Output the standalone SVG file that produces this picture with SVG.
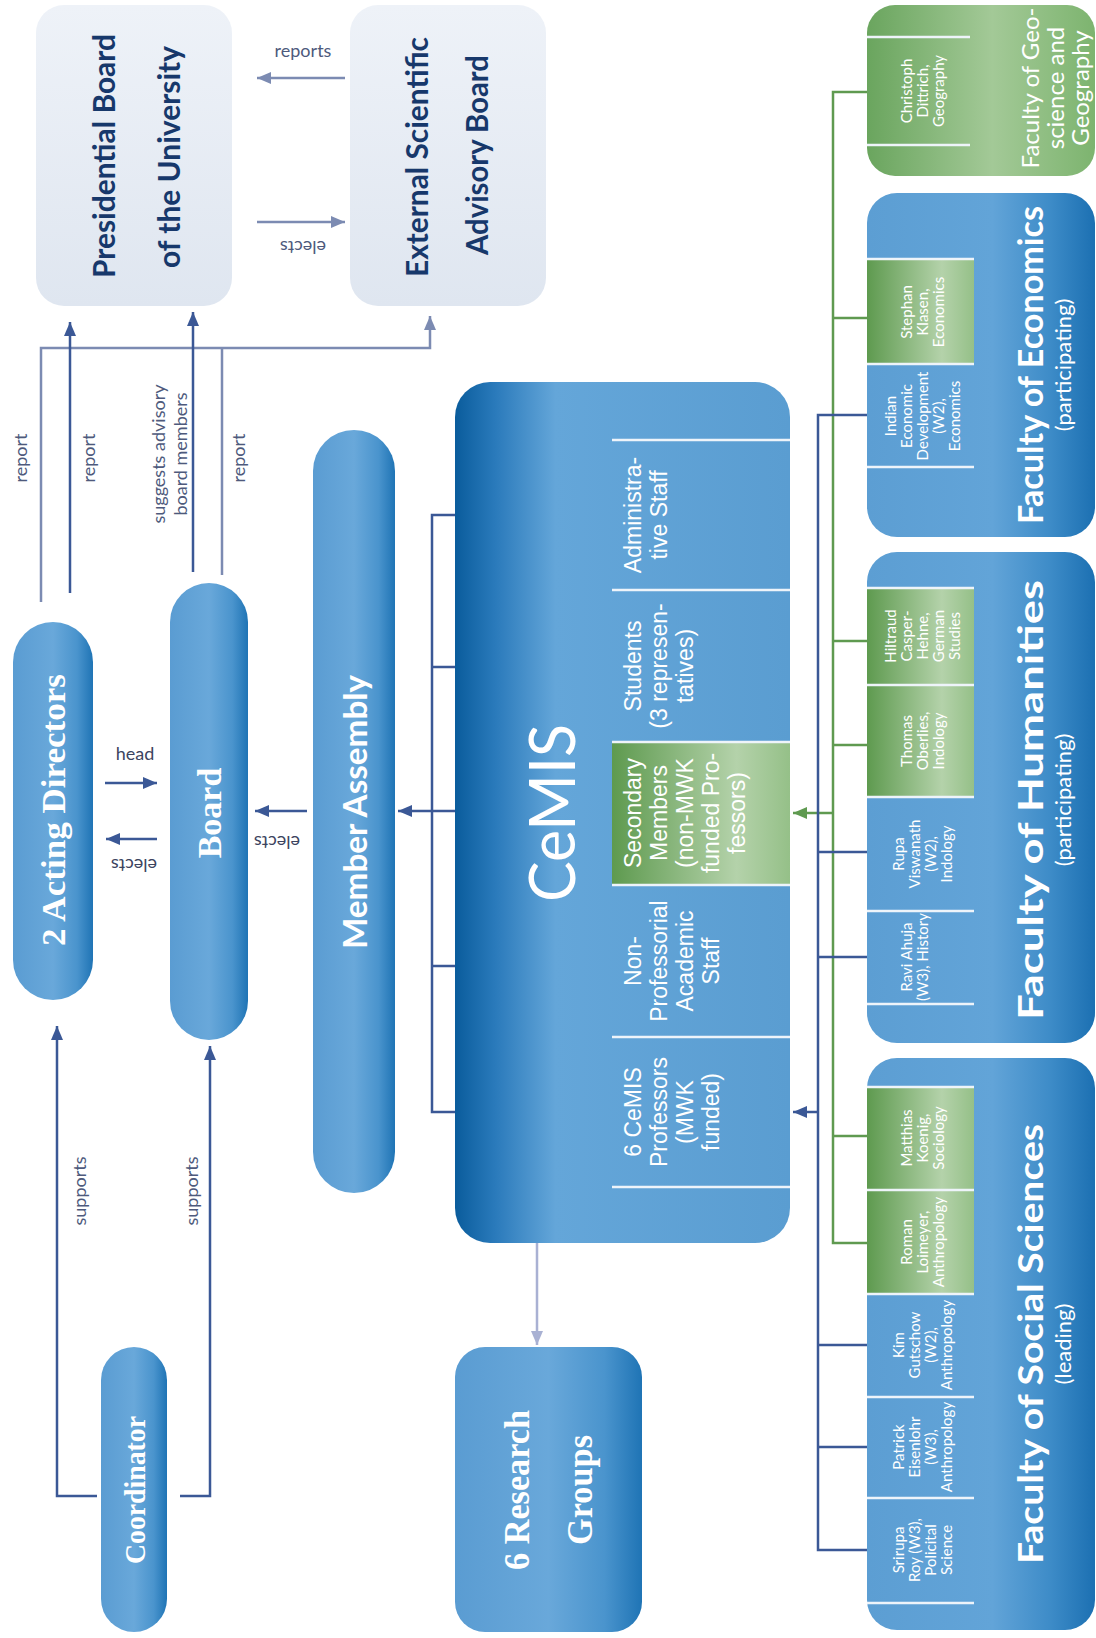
<svg xmlns="http://www.w3.org/2000/svg" width="1096" height="1638" viewBox="0 0 1096 1638">
<style>
.lbl{font-family:Lato,"Liberation Sans",sans-serif;font-size:18px;fill:#4e5a7c;text-anchor:middle;dominant-baseline:central}
.ttl{font-family:Lato,"Liberation Sans",sans-serif;font-weight:bold;font-size:30px;fill:#17386b;text-anchor:middle;dominant-baseline:central}
.wt{font-family:Lato,"Liberation Sans",sans-serif;font-weight:bold;font-size:32px;fill:#ffffff;text-anchor:middle;dominant-baseline:central}
.ws{font-family:"Liberation Serif","DejaVu Serif",serif;font-weight:bold;font-size:34px;fill:#ffffff;text-anchor:middle;dominant-baseline:central}
.cell{font-family:"Liberation Sans",sans-serif;font-size:23px;fill:#ffffff;text-anchor:middle;dominant-baseline:central}
.fc{font-family:Lato,"Liberation Sans",sans-serif;font-size:15px;fill:#ffffff;text-anchor:middle;dominant-baseline:central}
.sep{stroke:#eef4fa;stroke-width:2.5;fill:none}
.dark{stroke:#3b5896;stroke-width:2.5;fill:none}
.light{stroke:#7c8bb2;stroke-width:2.5;fill:none}
.green{stroke:#5f9a50;stroke-width:2.5;fill:none}
.lav{stroke:#a9b1d3;stroke-width:2.5;fill:none}
</style>
<defs>
<linearGradient id="gPill" x1="0" y1="0" x2="1" y2="0">
<stop offset="0" stop-color="#5a9cd2"/><stop offset="0.5" stop-color="#69a8da"/><stop offset="0.8" stop-color="#4a94cd"/><stop offset="1" stop-color="#1f74b5"/>
</linearGradient>
<linearGradient id="gCemis" x1="0" y1="0" x2="1" y2="0">
<stop offset="0" stop-color="#0a5c9c"/><stop offset="0.12" stop-color="#2a7abb"/><stop offset="0.3" stop-color="#64a6d9"/><stop offset="1" stop-color="#5a9dd1"/>
</linearGradient>
<linearGradient id="gFac" x1="0" y1="0" x2="1" y2="0">
<stop offset="0" stop-color="#5c9ed3"/><stop offset="0.55" stop-color="#62a4d8"/><stop offset="0.8" stop-color="#3e8cc8"/><stop offset="1" stop-color="#1c70b2"/>
</linearGradient>
<linearGradient id="gGreen" x1="0" y1="0" x2="1" y2="0">
<stop offset="0" stop-color="#5e9a4f"/><stop offset="0.7" stop-color="#b4d2aa"/><stop offset="1" stop-color="#95c088"/>
</linearGradient>
<linearGradient id="gGeo" x1="0" y1="0" x2="1" y2="0">
<stop offset="0" stop-color="#6aa55e"/><stop offset="0.55" stop-color="#a3c997"/><stop offset="1" stop-color="#7db46f"/>
</linearGradient>
<linearGradient id="gLight" x1="0" y1="0" x2="0" y2="1">
<stop offset="0" stop-color="#eef2f8"/><stop offset="1" stop-color="#dfe6f0"/>
</linearGradient>
<marker id="aDark" markerUnits="userSpaceOnUse" markerWidth="14" markerHeight="12" refX="14" refY="6" orient="auto"><path d="M0,0 L14,6 L0,12 z" fill="#3b5896"/></marker>
<marker id="aLight" markerUnits="userSpaceOnUse" markerWidth="14" markerHeight="12" refX="14" refY="6" orient="auto"><path d="M0,0 L14,6 L0,12 z" fill="#7c8bb2"/></marker>
<marker id="aGreen" markerUnits="userSpaceOnUse" markerWidth="14" markerHeight="12" refX="14" refY="6" orient="auto"><path d="M0,0 L14,6 L0,12 z" fill="#5f9a50"/></marker>
<marker id="aLav" markerUnits="userSpaceOnUse" markerWidth="14" markerHeight="12" refX="14" refY="6" orient="auto"><path d="M0,0 L14,6 L0,12 z" fill="#a9b1d3"/></marker>
</defs>
<rect width="1096" height="1638" fill="#ffffff"/>

<g id="connectors">
<path class="light" d="M41,602 V348 H430 V316" marker-end="url(#aLight)"/>
<path class="light" d="M222,575 V348"/>
<path class="dark" d="M70,593 V322" marker-end="url(#aDark)"/>
<path class="dark" d="M193,572 V312" marker-end="url(#aDark)"/>
<path class="light" d="M345,78 H257" marker-end="url(#aLight)"/>
<path class="light" d="M257,222 H345" marker-end="url(#aLight)"/>
<path class="dark" d="M105,783 H157" marker-end="url(#aDark)"/>
<path class="dark" d="M157,839 H106" marker-end="url(#aDark)"/>
<path class="dark" d="M307,811 H255" marker-end="url(#aDark)"/>
<path class="dark" d="M455,515 H432 V1112 H455 M432,667 H455 M432,966 H455"/>
<path class="dark" d="M455,811 H398" marker-end="url(#aDark)"/>
<path class="dark" d="M97,1496 H57 V1026" marker-end="url(#aDark)"/>
<path class="dark" d="M180,1496 H210 V1046" marker-end="url(#aDark)"/>
<path class="lav" d="M590,961 H537 V1345" marker-end="url(#aLav)"/>
<path class="lav" d="M537,1112 H590"/>
<path class="green" d="M867,92 H833 V1243 H867 M833,318 H867 M833,641 H867 M833,745 H867 M833,1136 H867"/>
<path class="green" d="M833,813 H793" marker-end="url(#aGreen)"/>
<path class="dark" d="M867,415 H818 V1550 H867 M818,852 H867 M818,957 H867 M818,1345 H867 M818,1447 H867"/>
<path class="dark" d="M818,1112 H793" marker-end="url(#aDark)"/>
</g>

<g id="labels">
<text class="lbl" x="303" y="50">reports</text>
<text class="lbl" transform="translate(303,248) rotate(180)">elects</text>
<text class="lbl" transform="translate(20,458) rotate(-90)">report</text>
<text class="lbl" transform="translate(88,458) rotate(-90)">report</text>
<text class="lbl" transform="translate(238,458) rotate(-90)">report</text>
<text class="lbl" transform="translate(158,454) rotate(-90)">suggests advisory</text>
<text class="lbl" transform="translate(180,454) rotate(-90)">board members</text>
<text class="lbl" style="fill:#3c4460" x="135" y="753">head</text>
<text class="lbl" style="fill:#3c4460" transform="translate(134,866) rotate(180)">elects</text>
<text class="lbl" style="fill:#3c4460" transform="translate(277,843) rotate(180)">elects</text>
<text class="lbl" transform="translate(79,1191) rotate(-90)">supports</text>
<text class="lbl" transform="translate(191,1191) rotate(-90)">supports</text>
<text class="lbl" style="fill:#c3cbe6;font-size:17px" transform="translate(563,1153) rotate(-90)">head</text>
</g>

<g id="presidential-board">
<rect x="36" y="5" width="196" height="301" rx="28" fill="url(#gLight)"/>
<text class="ttl" transform="translate(103,156) rotate(-90)" textLength="244" lengthAdjust="spacingAndGlyphs">Presidential Board</text>
<text class="ttl" transform="translate(168,157) rotate(-90)" textLength="222" lengthAdjust="spacingAndGlyphs">of the University</text>
</g>

<g id="external-board">
<rect x="350" y="5" width="196" height="301" rx="28" fill="url(#gLight)"/>
<text class="ttl" transform="translate(416,157) rotate(-90)" textLength="240" lengthAdjust="spacingAndGlyphs">External Scientific</text>
<text class="ttl" transform="translate(476,155) rotate(-90)" textLength="200" lengthAdjust="spacingAndGlyphs">Advisory Board</text>
</g>

<g id="acting-directors">
<rect x="13" y="622" width="80" height="378" rx="40" fill="url(#gPill)"/>
<text class="ws" transform="translate(53,810) rotate(-90)" textLength="272" lengthAdjust="spacingAndGlyphs">2 Acting Directors</text>
</g>

<g id="board">
<rect x="170" y="583" width="78" height="457" rx="39" fill="url(#gPill)"/>
<text class="ws" transform="translate(209,813) rotate(-90)">Board</text>
</g>

<g id="member-assembly">
<rect x="313" y="430" width="82" height="763" rx="41" fill="url(#gPill)"/>
<text class="wt" transform="translate(354,812) rotate(-90)" textLength="274" lengthAdjust="spacingAndGlyphs">Member Assembly</text>
</g>

<g id="coordinator">
<rect x="101" y="1347" width="66" height="285" rx="33" fill="url(#gPill)"/>
<text class="ws" style="font-size:30px" transform="translate(134,1490) rotate(-90)" textLength="148" lengthAdjust="spacingAndGlyphs">Coordinator</text>
</g>

<g id="cemis">
<rect x="455" y="382" width="335" height="861" rx="35" fill="url(#gCemis)"/>
<rect x="612" y="742" width="178" height="143" fill="url(#gGreen)"/>
<path class="sep" d="M612,440 H790 M612,590 H790 M612,742 H790 M612,885 H790 M612,1037 H790 M612,1187 H790"/>
<text class="wt" style="font-size:64px;font-weight:normal" transform="translate(550,813) rotate(-90)" textLength="178" lengthAdjust="spacingAndGlyphs">CeMIS</text>
<text class="cell" transform="translate(633,515) rotate(-90)">Administra-</text>
<text class="cell" transform="translate(659,515) rotate(-90)">tive Staff</text>
<text class="cell" transform="translate(633,666) rotate(-90)">Students</text>
<text class="cell" transform="translate(659,666) rotate(-90)">(3 represen-</text>
<text class="cell" transform="translate(685,666) rotate(-90)">tatives)</text>
<text class="cell" transform="translate(633,813) rotate(-90)">Secondary</text>
<text class="cell" transform="translate(659,813) rotate(-90)">Members</text>
<text class="cell" transform="translate(685,813) rotate(-90)">(non-MWK</text>
<text class="cell" transform="translate(711,813) rotate(-90)">funded Pro-</text>
<text class="cell" transform="translate(737,813) rotate(-90)">fessors)</text>
<text class="cell" transform="translate(633,961) rotate(-90)">Non-</text>
<text class="cell" transform="translate(659,961) rotate(-90)">Professorial</text>
<text class="cell" transform="translate(685,961) rotate(-90)">Academic</text>
<text class="cell" transform="translate(711,961) rotate(-90)">Staff</text>
<text class="cell" transform="translate(633,1112) rotate(-90)">6 CeMIS</text>
<text class="cell" transform="translate(659,1112) rotate(-90)">Professors</text>
<text class="cell" transform="translate(685,1112) rotate(-90)">(MWK</text>
<text class="cell" transform="translate(711,1112) rotate(-90)">funded)</text>
</g>

<g id="research-groups">
<rect x="455" y="1347" width="187" height="285" rx="30" fill="url(#gPill)"/>
<text class="ws" style="font-size:36px" transform="translate(517,1490) rotate(-90)" textLength="160" lengthAdjust="spacingAndGlyphs">6 Research</text>
<text class="ws" style="font-size:36px" transform="translate(580,1490) rotate(-90)" textLength="110" lengthAdjust="spacingAndGlyphs">Groups</text>
</g>

<g id="faculty-geo">
<rect x="867" y="5" width="228" height="171" rx="28" fill="url(#gGeo)"/>
<path class="sep" d="M867,37 H970 M867,145 H970"/>
<text class="fc" transform="translate(906,91) rotate(-90)">Christoph</text>
<text class="fc" transform="translate(922,91) rotate(-90)">Dittrich,</text>
<text class="fc" transform="translate(938,91) rotate(-90)">Geography</text>
<text class="wt" style="font-size:24px;font-weight:normal" transform="translate(1029,88) rotate(-90)">Faculty of Geo-</text>
<text class="wt" style="font-size:24px;font-weight:normal" transform="translate(1054,88) rotate(-90)">science and</text>
<text class="wt" style="font-size:24px;font-weight:normal" transform="translate(1079,88) rotate(-90)">Geography</text>
</g>

<g id="faculty-economics">
<rect x="867" y="193" width="228" height="344" rx="30" fill="url(#gFac)"/>
<rect x="867" y="259" width="107" height="105" fill="url(#gGreen)"/>
<path class="sep" d="M867,259 H974 M867,364 H974 M867,467 H974"/>
<text class="fc" transform="translate(906,312) rotate(-90)">Stephan</text>
<text class="fc" transform="translate(922,312) rotate(-90)">Klasen,</text>
<text class="fc" transform="translate(938,312) rotate(-90)">Economics</text>
<text class="fc" transform="translate(890,416) rotate(-90)">Indian</text>
<text class="fc" transform="translate(906,416) rotate(-90)">Economic</text>
<text class="fc" transform="translate(922,416) rotate(-90)">Development</text>
<text class="fc" transform="translate(938,416) rotate(-90)">(W2),</text>
<text class="fc" transform="translate(954,416) rotate(-90)">Economics</text>
<text class="wt" style="font-size:34px" transform="translate(1029,365) rotate(-90)" textLength="318" lengthAdjust="spacingAndGlyphs">Faculty of Economics</text>
<text class="wt" style="font-size:22px;font-weight:normal" transform="translate(1062,365) rotate(-90)">(participating)</text>
</g>

<g id="faculty-humanities">
<rect x="867" y="552" width="228" height="491" rx="30" fill="url(#gFac)"/>
<rect x="867" y="588" width="107" height="209" fill="url(#gGreen)"/>
<path class="sep" d="M867,588 H974 M867,685 H974 M867,797 H974 M867,911 H974 M867,1004 H974"/>
<text class="fc" transform="translate(890,636) rotate(-90)">Hiltraud</text>
<text class="fc" transform="translate(906,636) rotate(-90)">Casper-</text>
<text class="fc" transform="translate(922,636) rotate(-90)">Hehne,</text>
<text class="fc" transform="translate(938,636) rotate(-90)">German</text>
<text class="fc" transform="translate(954,636) rotate(-90)">Studies</text>
<text class="fc" transform="translate(906,741) rotate(-90)">Thomas</text>
<text class="fc" transform="translate(922,741) rotate(-90)">Oberlies,</text>
<text class="fc" transform="translate(938,741) rotate(-90)">Indology</text>
<text class="fc" transform="translate(898,854) rotate(-90)">Rupa</text>
<text class="fc" transform="translate(914,854) rotate(-90)">Viswanath</text>
<text class="fc" transform="translate(930,854) rotate(-90)">(W2),</text>
<text class="fc" transform="translate(946,854) rotate(-90)">Indology</text>
<text class="fc" transform="translate(906,957) rotate(-90)">Ravi Ahuja</text>
<text class="fc" transform="translate(922,957) rotate(-90)">(W3), History</text>
<text class="wt" style="font-size:34px" transform="translate(1029,800) rotate(-90)" textLength="440" lengthAdjust="spacingAndGlyphs">Faculty of Humanities</text>
<text class="wt" style="font-size:22px;font-weight:normal" transform="translate(1062,800) rotate(-90)">(participating)</text>
</g>

<g id="faculty-social-sciences">
<rect x="867" y="1058" width="228" height="572" rx="30" fill="url(#gFac)"/>
<rect x="867" y="1087" width="107" height="207" fill="url(#gGreen)"/>
<path class="sep" d="M867,1087 H974 M867,1190 H974 M867,1294 H974 M867,1397 H974 M867,1498 H974 M867,1603 H974"/>
<text class="fc" transform="translate(906,1138) rotate(-90)">Matthias</text>
<text class="fc" transform="translate(922,1138) rotate(-90)">Koenig,</text>
<text class="fc" transform="translate(938,1138) rotate(-90)">Sociology</text>
<text class="fc" transform="translate(906,1242) rotate(-90)">Roman</text>
<text class="fc" transform="translate(922,1242) rotate(-90)">Loimeyer,</text>
<text class="fc" transform="translate(938,1242) rotate(-90)">Anthropology</text>
<text class="fc" transform="translate(898,1345) rotate(-90)">Kim</text>
<text class="fc" transform="translate(914,1345) rotate(-90)">Gutschow</text>
<text class="fc" transform="translate(930,1345) rotate(-90)">(W2),</text>
<text class="fc" transform="translate(946,1345) rotate(-90)">Anthropology</text>
<text class="fc" transform="translate(898,1447) rotate(-90)">Patrick</text>
<text class="fc" transform="translate(914,1447) rotate(-90)">Eisenlohr</text>
<text class="fc" transform="translate(930,1447) rotate(-90)">(W3),</text>
<text class="fc" transform="translate(946,1447) rotate(-90)">Anthropology</text>
<text class="fc" transform="translate(898,1550) rotate(-90)">Srirupa</text>
<text class="fc" transform="translate(914,1550) rotate(-90)">Roy (W3),</text>
<text class="fc" transform="translate(930,1550) rotate(-90)">Policital</text>
<text class="fc" transform="translate(946,1550) rotate(-90)">Science</text>
<text class="wt" style="font-size:34px" transform="translate(1029,1344) rotate(-90)" textLength="440" lengthAdjust="spacingAndGlyphs">Faculty of Social Sciences</text>
<text class="wt" style="font-size:22px;font-weight:normal" transform="translate(1062,1344) rotate(-90)">(leading)</text>
</g>
</svg>
